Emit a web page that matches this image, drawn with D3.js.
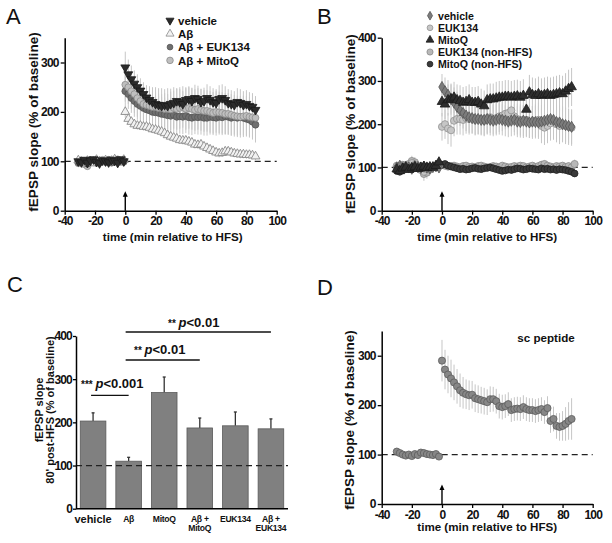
<!DOCTYPE html>
<html><head><meta charset="utf-8">
<script src="https://cdn.jsdelivr.net/npm/d3@7"></script>
<style>
body{margin:0;background:#fff;}
svg{display:block;font-family:"Liberation Sans",Arial,Helvetica,sans-serif;}
</style></head><body>
<svg id="c" width="612" height="543"></svg>
<script>
// ---------- DATA ----------
const timeTicks = [-40,-20,0,20,40,60,80,100];
const yTicks300 = [0,100,200,300];
const yTicks400 = [0,100,200,300,400];
const postTimes = [0,2,4,6,8,10,12,14,16,18,20,22,24,26,28,30,32,34,36,38,40,42,44,46,48,50,52,54,56,58,60,62,64,66,68,70,72,74,76,78,80,82,84,86];
const baseTimesA = [-31,-29,-27,-25,-23,-21,-19,-17,-15,-13,-11,-9,-7,-5,-3,-1];
const baseTimesB = [-30,-28,-26,-24,-22,-20,-18,-16,-14,-12,-10,-8,-6,-4,-2];
const allTimesB = [-30,-28,-26,-24,-22,-20,-18,-16,-14,-12,-10,-8,-6,-4,-2,0,2,4,6,8,10,12,14,16,18,20,22,24,26,28,30,32,34,36,38,40,42,44,46,48,50,52,54,56,58,60,62,64,66,68,70,72,74,76,78,80,82,84,86,88];

// Panel A
const aVehBase  = [100,98,103,97,101,104,99,96,102,100,98,103,101,97,104,100];
const aAbBase   = [102,99,97,101,100,96,103,100,98,102,99,101,104,100,98,103];
const aEukBase  = [98,101,100,95,99,102,97,101,100,99,103,98,100,102,101,99];
const aMitoBase = [96,100,94,90,102,98,100,97,103,101,99,97,102,104,99,101];
const aVehPost  = [290,276,266,257,250,243,236,229,224,220,216,214,212,214,212,216,218,222,220,216,224,226,222,228,226,220,222,228,224,220,218,226,228,224,218,216,214,220,218,214,216,212,210,204];
const aAbPost   = [200,186,180,175,172,172,170,170,168,165,164,162,160,157,153,150,148,146,143,142,142,140,138,134,133,134,130,127,124,121,118,116,117,120,120,118,116,115,114,114,113,113,112,110];
const aEukPost  = [242,236,228,222,216,212,208,205,203,200,199,198,196,195,193,192,194,190,191,190,192,189,188,190,189,190,188,188,190,189,188,190,189,191,190,188,190,188,189,188,186,184,180,174];
const aMitoPost = [255,250,242,236,228,222,216,214,212,210,210,208,208,206,206,205,208,206,208,210,206,208,206,204,206,204,202,202,200,198,200,199,198,196,196,194,192,191,190,191,192,190,189,188];
const aVehErr   = [32,30,28,27,26,25,24,24,24,23,23,23,24,24,24,25,25,25,26,26,26,26,27,27,27,27,27,28,28,28,28,28,28,28,28,28,28,28,28,28,28,28,28,28];
const aAbErr    = [12,10,9,9,8,8,8,8,8,8,8,8,8,8,8,8,8,8,8,8,8,8,8,8,8,8,8,8,8,8,8,8,8,8,8,8,8,8,8,8,8,8,8,8];
const aEukErr   = [30,30,30,32,32,32,32,33,33,33,33,34,34,34,34,35,35,35,35,35,35,35,35,35,35,36,36,36,36,36,36,36,36,36,36,36,36,36,36,36,36,36,36,36];
const aMitoErr  = [34,34,36,38,38,38,40,40,40,40,40,40,40,40,42,42,42,42,42,42,42,42,42,42,42,42,42,42,42,42,42,42,42,42,42,42,42,42,42,42,40,40,40,40];

// Panel B
const bVehBase  = [100,104,98,102,100,97,103,101,99,102,100,98,101,103,100];
const bEukBase  = [98,102,100,96,104,110,106,100,94,90,96,98,102,100,104];
const bMitoBase = [96,92,98,100,95,99,101,97,100,102,99,101,100,104,112];
const bVehPost  = [286,276,268,258,250,240,232,226,220,216,214,212,212,210,210,212,210,208,210,212,210,208,206,208,210,206,205,208,206,204,206,205,204,206,208,210,212,210,205,204,200,198,196,194];
const bEukPost  = [194,200,190,186,208,212,212,210,214,212,215,210,213,212,208,214,216,212,214,218,220,224,226,232,218,212,210,206,210,206,204,208,210,196,192,196,202,206,200,196,200,196,194,192];
const bMitoPost = [252,246,256,258,262,256,254,250,252,256,250,250,252,246,242,256,258,258,260,262,262,264,264,262,264,265,262,266,234,274,268,266,270,266,268,270,266,268,270,272,270,276,282,286];
const bVehErr   = [30,32,34,34,35,35,36,36,36,36,36,36,36,36,36,36,36,36,36,36,36,36,36,36,36,36,36,36,36,36,36,38,38,38,38,38,38,40,40,40,40,40,40,40];
const bEukErr   = [32,34,36,38,36,36,36,36,36,36,36,36,36,36,36,36,36,36,36,36,36,36,36,36,36,36,36,38,38,38,38,38,40,40,40,40,40,42,42,42,42,42,42,42];
const bMitoErr  = [34,34,36,36,36,36,36,36,36,36,36,36,36,36,36,36,36,36,38,38,38,38,38,38,38,38,38,38,38,40,40,40,40,40,40,40,42,42,42,42,42,42,44,44];
const bEukNon   = [104,100,106,102,108,115,112,104,100,85,88,95,100,102,104,106,104,102,103,104,102,100,103,104,101,102,100,103,104,102,100,101,103,102,100,104,102,100,101,103,102,104,103,100,102,104,101,103,106,108,104,102,100,103,102,104,101,103,100,108];
const bMitoNon  = [92,90,94,96,98,96,100,98,97,99,100,102,101,103,104,106,108,104,102,100,98,96,97,95,96,98,99,97,96,98,99,100,98,96,94,92,93,95,94,96,98,97,95,96,98,97,96,95,98,96,97,95,96,94,96,95,94,92,90,86];
const bEukNonErr= [8,8,9,9,10,12,12,10,10,16,14,10,8,8,8,8,8,8,8,8,8,8,8,8,8,8,8,8,8,8,8,8,8,8,8,8,8,8,8,8,8,8,8,8,8,8,8,8,8,8,8,8,8,8,8,8,8,8,8,10];
const bMitoNonErr=[8,8,8,8,8,8,8,8,8,8,8,8,8,8,8,8,8,8,8,8,8,8,8,8,8,8,8,8,8,8,8,8,8,8,8,8,8,8,8,8,8,8,8,8,8,8,8,8,8,8,8,8,8,8,8,8,8,8,8,8];

// Panel C
const cCategories = ["vehicle","Aβ","MitoQ","Aβ + MitoQ","EUK134","Aβ + EUK134"];
const cLabels = [["vehicle"],["Aβ"],["MitoQ"],["Aβ +","MitoQ"],["EUK134"],["Aβ +","EUK134"]];
const cValues = [203,110,269,187,192,185];
const cErrors = [19,9,36,23,32,23];
const cSig = [
  {from:"vehicle", to:"Aβ", stars:"***", p:"<0.001", level:0},
  {from:"Aβ", to:"Aβ + MitoQ", stars:"**", p:"<0.01", level:1},
  {from:"Aβ", to:"Aβ + EUK134", stars:"**", p:"<0.01", level:2}
];

// Panel D
const dBaseTimes = [-30,-28,-26,-24,-22,-20,-18,-16,-14,-12,-10,-8,-6,-4,-2];
const dBase = [106,103,100,98,100,97,101,99,104,103,101,100,99,101,96];
const dPost = [290,272,262,254,246,238,230,225,222,220,221,214,212,210,208,206,212,212,208,198,196,198,202,190,192,193,192,196,192,190,190,188,190,192,186,194,168,172,158,156,158,162,168,172];
const dErr  = [42,40,38,38,36,35,34,32,30,30,28,28,28,27,27,26,26,25,25,25,25,24,24,24,24,24,24,24,24,24,24,24,24,24,24,24,24,25,26,28,30,34,38,42];

// ---------- DRAW ----------
const svg = d3.select("#c");
const errColor = "#c6c6c6";

function symbolPath(shape, size) {
  if (shape === "triUp" || shape === "triDown") return d3.symbol().type(d3.symbolTriangle).size(size)();
  if (shape === "diamond") return d3.symbol().type(d3.symbolDiamond).size(size)();
  return d3.symbol().type(d3.symbolCircle).size(size)();
}
function drawErr(g, x, y, ts, vs, es) {
  g.append("g").selectAll("line").data(ts).join("line")
    .attr("x1", (t)=>x(t)).attr("x2", (t)=>x(t))
    .attr("y1", (t,i)=>y(vs[i]-es[i])).attr("y2", (t,i)=>y(vs[i]+es[i]))
    .attr("stroke", errColor).attr("stroke-width", 1);
}
function drawPts(g, x, y, ts, vs, st) {
  const p = symbolPath(st.shape, st.size);
  g.append("g").selectAll("path").data(ts).join("path")
    .attr("d", p)
    .attr("transform", (t,i)=>`translate(${x(t)},${y(vs[i])})${st.shape==="triDown"?" rotate(180)":""}`)
    .attr("fill", st.fill).attr("stroke", st.stroke).attr("stroke-width", st.sw || 0.8);
}
function styleAxis(g) {
  g.selectAll("path.domain").attr("stroke", "#000").attr("stroke-width", 1.5);
  g.selectAll(".tick line").attr("stroke", "#000").attr("stroke-width", 1.3);
  g.selectAll(".tick text").attr("font-family", '"Liberation Sans",Arial,sans-serif')
    .attr("font-weight", "bold").attr("font-size", 12).attr("letter-spacing", -0.8).attr("fill", "#111");
}
function timePanel(cfg) {
  const g = svg.append("g");
  const x = d3.scaleLinear().domain([-40,100]).range(cfg.xr);
  const y = d3.scaleLinear().domain(cfg.yd).range(cfg.yr);
  g.append("line").attr("x1", x(-40)).attr("x2", x(100)).attr("y1", y(100)).attr("y2", y(100))
    .attr("stroke", "#222").attr("stroke-width", 1.3).attr("stroke-dasharray", "6,4");
  const ax = g.append("g").attr("transform", `translate(0,${cfg.yr[0]})`)
    .call(d3.axisBottom(x).tickValues(timeTicks).tickSize(4).tickPadding(2).tickSizeOuter(0).tickFormat(d=>String(d)));
  styleAxis(ax);
  const ay = g.append("g").attr("transform", `translate(${cfg.xr[0]},0)`)
    .call(d3.axisLeft(y).tickValues(cfg.yt).tickSize(4).tickPadding(2).tickSizeOuter(0).tickFormat(d=>String(d)));
  styleAxis(ay);
  const ax0 = x(0), yb = cfg.yr[0];
  g.append("line").attr("x1", ax0).attr("x2", ax0).attr("y1", yb).attr("y2", yb-17).attr("stroke", "#000").attr("stroke-width", 1.4);
  g.append("path").attr("d", `M${ax0-2.5},${yb-14} L${ax0},${yb-19.5} L${ax0+2.5},${yb-14} Z`).attr("fill", "#000");
  g.append("text").attr("x", (x(-40)+x(100))/2 + cfg.xtOff).attr("y", cfg.xtY).attr("text-anchor", "middle")
    .attr("font-weight", "bold").attr("font-size", 11.6).attr("fill", "#111").text("time (min relative to HFS)");
  g.append("text").attr("transform", `translate(${cfg.ylX},${cfg.ylY}) rotate(-90)`).attr("text-anchor", "middle")
    .attr("dy", "0.35em").attr("font-weight", "bold").attr("font-size", 13.6).attr("fill", "#111").text("fEPSP slope (% of baseline)");
  cfg.series.forEach(s => { if (s.err) drawErr(g, x, y, s.t, s.v, s.err); });
  cfg.series.forEach(s => drawPts(g, x, y, s.t, s.v, s.style));
  return {g, x, y};
}

const stA = {
  veh:  {shape:"triDown", size:34, fill:"#2b2b2b", stroke:"#1a1a1a"},
  ab:   {shape:"triUp",   size:34, fill:"#f2f2f2", stroke:"#8a8a8a", sw:0.9},
  euk:  {shape:"circle",  size:36, fill:"#6f6f6f", stroke:"#555"},
  mito: {shape:"circle",  size:36, fill:"#bfbfbf", stroke:"#8c8c8c"}
};
timePanel({
  xr:[64.7,276.7], yd:[0,350], yr:[210.7,37.8], yt:yTicks300, xtOff:2, xtY:241, ylX:33, ylY:122,
  series:[
    {t:baseTimesA, v:aMitoBase, style:stA.mito},
    {t:baseTimesA, v:aEukBase, style:stA.euk},
    {t:baseTimesA, v:aAbBase, style:stA.ab},
    {t:baseTimesA, v:aVehBase, style:stA.veh},
    {t:postTimes, v:aAbPost, err:aAbErr, style:stA.ab},
    {t:postTimes, v:aEukPost, err:aEukErr, style:stA.euk},
    {t:postTimes, v:aMitoPost, err:aMitoErr, style:stA.mito},
    {t:postTimes, v:aVehPost, err:aVehErr, style:stA.veh}
  ]
});

const stB = {
  veh:  {shape:"diamond", size:36, fill:"#7c7c7c", stroke:"#555"},
  euk:  {shape:"circle",  size:40, fill:"#c6c6c6", stroke:"#929292"},
  mito: {shape:"triUp",   size:40, fill:"#2e2e2e", stroke:"#1a1a1a"},
  eukN: {shape:"circle",  size:40, fill:"#b8b8b8", stroke:"#8a8a8a"},
  mitoN:{shape:"circle",  size:36, fill:"#3a3a3a", stroke:"#222"}
};
timePanel({
  xr:[381.7,592.7], yd:[0,400], yr:[210.7,37.7], yt:yTicks400, xtOff:0, xtY:241, ylX:350, ylY:124,
  series:[
    {t:allTimesB, v:bEukNon, err:bEukNonErr, style:stB.eukN},
    {t:allTimesB, v:bMitoNon, err:bMitoNonErr, style:stB.mitoN},
    {t:baseTimesB, v:bEukBase, style:stB.euk},
    {t:baseTimesB, v:bVehBase, style:stB.veh},
    {t:baseTimesB, v:bMitoBase, style:stB.mito},
    {t:postTimes, v:bEukPost, err:bEukErr, style:stB.euk},
    {t:postTimes, v:bVehPost, err:bVehErr, style:stB.veh},
    {t:postTimes, v:bMitoPost, err:bMitoErr, style:stB.mito}
  ]
});

const stD = {shape:"circle", size:40, fill:"#878787", stroke:"#5c5c5c"};
timePanel({
  xr:[381.7,592.7], yd:[0,350], yr:[504,331], yt:yTicks300, xtOff:0, xtY:531, ylX:349, ylY:420,
  series:[
    {t:dBaseTimes, v:dBase, style:stD},
    {t:postTimes, v:dPost, err:dErr, style:stD}
  ]
});
svg.append("text").attr("x", 546).attr("y", 342).attr("text-anchor", "middle").attr("font-weight", "bold")
  .attr("font-size", 11.6).attr("fill", "#111").text("sc peptide");

function legend(items, x0, y0, dy, fs) {
  const g = svg.append("g");
  items.forEach((it, i) => {
    const yy = y0 + i*dy;
    g.append("path").attr("d", symbolPath(it.style.shape, it.lsize))
      .attr("transform", `translate(${x0},${yy})${it.style.shape==="triDown"?" rotate(180)":""}`)
      .attr("fill", it.style.fill).attr("stroke", it.style.stroke).attr("stroke-width", 0.8);
    g.append("text").attr("x", x0+8).attr("y", yy).attr("dy", "0.36em").attr("font-weight", "bold")
      .attr("font-size", fs).attr("fill", "#111").text(it.label);
  });
}
legend([
  {label:"vehicle", style:stA.veh, lsize:28},
  {label:"Aβ", style:stA.ab, lsize:28},
  {label:"Aβ + EUK134", style:stA.euk, lsize:26},
  {label:"Aβ + MitoQ", style:stA.mito, lsize:34}
], 170, 20.5, 13.3, 11.5);
legend([
  {label:"vehicle", style:stB.veh, lsize:22},
  {label:"EUK134", style:stB.euk, lsize:26},
  {label:"MitoQ", style:stB.mito, lsize:26},
  {label:"EUK134 (non-HFS)", style:stB.eukN, lsize:30},
  {label:"MitoQ (non-HFS)", style:stB.mitoN, lsize:26}
], 430, 15.7, 12.1, 10.6);

// Panel C
(function(){
  const g = svg.append("g");
  const x = d3.scaleBand().domain(cCategories).range([76,288]).paddingInner(0.28).paddingOuter(0.12);
  const y = d3.scaleLinear().domain([0,400]).range([508.7,336]);
  const bw = x.bandwidth();
  cCategories.forEach((c,i)=>{
    const cx = x(c)+bw/2;
    g.append("line").attr("x1",cx).attr("x2",cx).attr("y1",y(cValues[i])).attr("y2",y(cValues[i]+cErrors[i]))
      .attr("stroke","#333").attr("stroke-width",1.3);
    g.append("line").attr("x1",cx-1.5).attr("x2",cx+1.5).attr("y1",y(cValues[i]+cErrors[i])).attr("y2",y(cValues[i]+cErrors[i]))
      .attr("stroke","#333").attr("stroke-width",1.3);
  });
  g.append("g").selectAll("rect").data(cCategories).join("rect")
    .attr("x", d=>x(d)).attr("width", bw)
    .attr("y", (d,i)=>y(cValues[i])).attr("height", (d,i)=>y(0)-y(cValues[i]))
    .attr("fill","#808080").attr("stroke","#5a5a5a").attr("stroke-width",0.8);
  g.append("line").attr("x1",76).attr("x2",288).attr("y1",y(100)).attr("y2",y(100))
    .attr("stroke","#222").attr("stroke-width",1.3).attr("stroke-dasharray","6,4");
  g.append("line").attr("x1",76).attr("x2",288).attr("y1",y(0)).attr("y2",y(0)).attr("stroke","#000").attr("stroke-width",1.5);
  const ay = g.append("g").attr("transform","translate(76,0)")
    .call(d3.axisLeft(y).tickValues(yTicks400).tickSize(3).tickPadding(1).tickSizeOuter(0).tickFormat(d=>String(d)));
  styleAxis(ay);
  cLabels.forEach((lines,i)=>{
    const cx = x(cCategories[i])+bw/2;
    const fs = i===0 ? 11 : 8.6;
    lines.forEach((ln,j)=>{
      g.append("text").attr("x",cx).attr("y", lines.length===1 ? (i===0?523:522) : 521.5 + j*9.7)
        .attr("text-anchor","middle").attr("font-weight","bold").attr("font-size",fs)
        .attr("letter-spacing", i===0?0:-0.3).attr("fill","#111").text(ln);
    });
  });
  const sigY = [395.3, 360, 332];
  const txt = [{x:81,y:387.5},{x:134,y:354},{x:168,y:327}];
  cSig.forEach((s,k)=>{
    const x1 = x(s.from)+bw/2 - (k===0?2:3), x2 = x(s.to)+bw/2;
    g.append("line").attr("x1",x1).attr("x2",x2).attr("y1",sigY[s.level]).attr("y2",sigY[s.level])
      .attr("stroke","#111").attr("stroke-width",1.3);
    const t = g.append("text").attr("x",txt[k].x).attr("y",txt[k].y).attr("font-weight","bold").attr("fill","#111");
    t.append("tspan").attr("font-size",10).text(s.stars+" ");
    t.append("tspan").attr("font-size",13).attr("font-style","italic").text("p");
    t.append("tspan").attr("font-size",13).text(s.p);
  });
  const yl = g.append("text").attr("transform","translate(44,410) rotate(-90)").attr("text-anchor","middle")
    .attr("font-weight","bold").attr("font-size",11).attr("fill","#111");
  yl.append("tspan").attr("x",0).attr("dy","-0.1em").text("fEPSP slope");
  yl.append("tspan").attr("x",0).attr("dy","1.05em").text("80' post-HFS (% of baseline)");
})();

[["A",6,23.5],["B",317,23.5],["C",7,291.5],["D",317,295]].forEach(([l,x,y])=>{
  svg.append("text").attr("x",x).attr("y",y).attr("font-size",22).attr("fill","#111").text(l);
});
</script>
</body></html>
